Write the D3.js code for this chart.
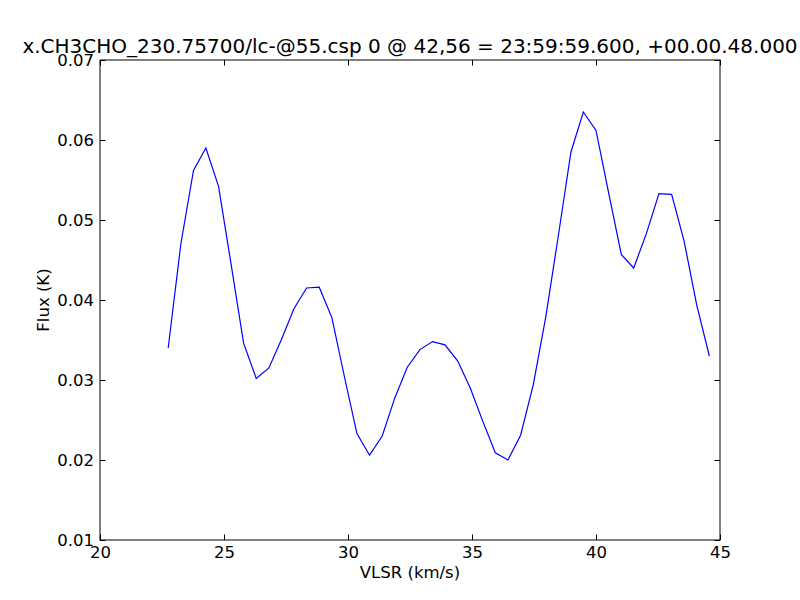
<!DOCTYPE html>
<html>
<head>
<meta charset="utf-8">
<script src="https://d3js.org/d3.v7.min.js"></script>
<style>
  html, body { margin: 0; padding: 0; background: #fff; }
  svg { display: block; }
  text { font-family: "DejaVu Sans", sans-serif; fill: #000; }
</style>
</head>
<body>
<script>
const titleText = "x.CH3CHO_230.75700/lc-@55.csp 0 @ 42,56 = 23:59:59.600, +00.00.48.000";
const xLabel = "VLSR (km/s)";
const yLabel = "Flux (K)";
const xTicks = [20, 25, 30, 35, 40, 45];
const yTicks = [0.01, 0.02, 0.03, 0.04, 0.05, 0.06, 0.07];
const yTickLabels = ["0.01", "0.02", "0.03", "0.04", "0.05", "0.06", "0.07"];

const velocity = [22.75, 23.26, 23.77, 24.27, 24.78, 25.29, 25.79, 26.30, 26.81, 27.32,
  27.82, 28.33, 28.84, 29.35, 29.85, 30.36, 30.87, 31.38, 31.88, 32.39,
  32.90, 33.41, 33.91, 34.42, 34.93, 35.44, 35.94, 36.45, 36.96, 37.47,
  37.97, 38.48, 38.99, 39.49, 40.00, 40.51, 41.02, 41.52, 42.03, 42.54,
  43.05, 43.55, 44.06, 44.57];
const flux = [0.0340, 0.0470, 0.0562, 0.0590, 0.0542, 0.0444, 0.0346, 0.0302, 0.0315, 0.0351,
  0.0389, 0.0415, 0.0416, 0.0378, 0.0305, 0.0233, 0.0206, 0.0230, 0.0277, 0.0316,
  0.0338, 0.0348, 0.0344, 0.0324, 0.0290, 0.0248, 0.0209, 0.0200, 0.0231, 0.0294,
  0.0378, 0.0480, 0.0585, 0.0635, 0.0612, 0.0534, 0.0457, 0.0440, 0.0483, 0.0533,
  0.0532, 0.0474, 0.0394, 0.0330];

const W = 800, H = 600;
const m = { left: 100, right: 80, top: 60, bottom: 60 };
const iw = W - m.left - m.right, ih = H - m.top - m.bottom;

const svg = d3.select("body").append("svg").attr("width", W).attr("height", H);

const x = d3.scaleLinear().domain([20, 45]).range([m.left, m.left + iw]);
const y = d3.scaleLinear().domain([0.01, 0.07]).range([m.top + ih, m.top]);

const tickLen = 5.5;
const fs = 16.5;

// line
const data = velocity.map((v, i) => [v, flux[i]]);
svg.append("path")
  .datum(data)
  .attr("fill", "none")
  .attr("stroke", "#0000ff")
  .attr("stroke-width", 1.2)
  .attr("stroke-linejoin", "miter")
  .attr("d", d3.line().x(d => x(d[0])).y(d => y(d[1])));

// axes (ticks inward, on all four sides)
const g = svg.append("g");
// bottom
const xb = d3.axisBottom(x).tickValues(xTicks).tickSize(-tickLen).tickPadding(8).tickFormat(d3.format("d"));
const gb = g.append("g").attr("transform", `translate(0,${m.top + ih})`).call(xb);
const xt = d3.axisTop(x).tickValues(xTicks).tickSize(-tickLen).tickFormat("");
const gt = g.append("g").attr("transform", `translate(0,${m.top})`).call(xt);
const yl = d3.axisLeft(y).tickValues(yTicks).tickSize(-tickLen).tickPadding(8).tickFormat((d, i) => yTickLabels[i]);
const gl = g.append("g").attr("transform", `translate(${m.left},0)`).call(yl);
const yr = d3.axisRight(y).tickValues(yTicks).tickSize(-tickLen).tickFormat("");
const gr = g.append("g").attr("transform", `translate(${m.left + iw},0)`).call(yr);

[gb, gt, gl, gr].forEach(a => {
  a.select(".domain").remove();
  a.selectAll("line").attr("stroke", "#000").attr("stroke-width", 1);
  a.selectAll("text").attr("font-family", "DejaVu Sans").attr("font-size", fs).attr("fill", "#000");
});
gb.selectAll("text").attr("dy", "0.71em").attr("y", 6);
gl.selectAll("text").attr("x", -6);

// frame
svg.append("rect")
  .attr("x", m.left).attr("y", m.top)
  .attr("width", iw).attr("height", ih)
  .attr("fill", "none").attr("stroke", "#000").attr("stroke-width", 1);

// title
svg.append("text")
  .attr("x", m.left + iw / 2).attr("y", 53)
  .attr("text-anchor", "middle")
  .attr("font-size", 20)
  .text(titleText);

// x label
svg.append("text")
  .attr("x", m.left + iw / 2).attr("y", 578)
  .attr("text-anchor", "middle")
  .attr("font-size", fs)
  .text(xLabel);

// y label
svg.append("text")
  .attr("transform", `translate(49,${m.top + ih / 2}) rotate(-90)`)
  .attr("text-anchor", "middle")
  .attr("font-size", fs)
  .text(yLabel);
</script>
</body>
</html>
